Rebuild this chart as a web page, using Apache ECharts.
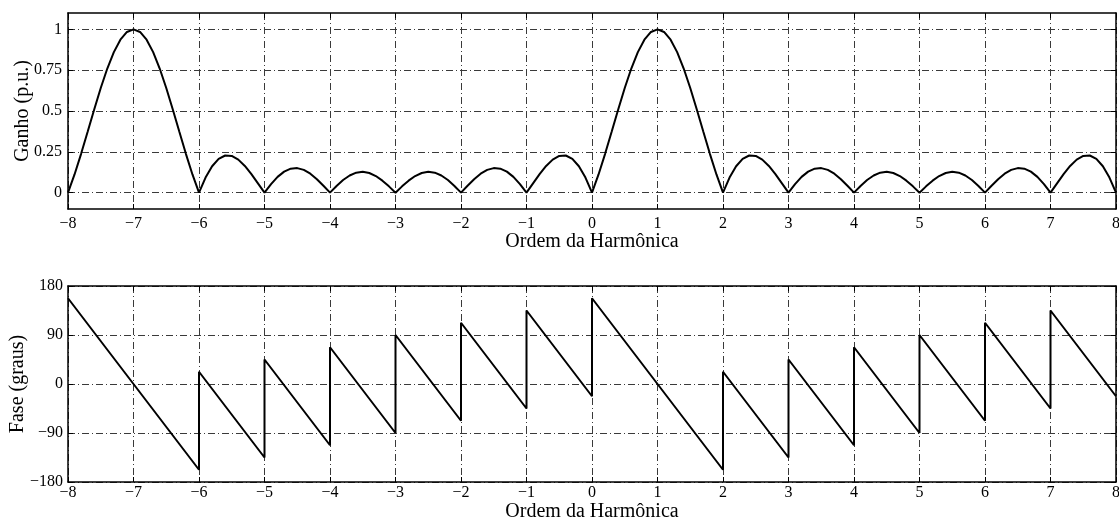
<!DOCTYPE html>
<html>
<head>
<meta charset="utf-8">
<script src="https://cdn.jsdelivr.net/npm/echarts@6/dist/echarts.min.js"></script>
<style>
  html, body { margin: 0; padding: 0; background: #fff; }
  #chart { width: 1119px; height: 520px; }
</style>
</head>
<body>
<div id="chart"></div>
<script>
// Harmonic order axis: sampled from -8 to 8 in steps of 0.1
const orderStart = -8;
const orderStep = 0.1;

// Filter gain (p.u.) at each sampled harmonic order
const gain = [
  0, 0.1116, 0.2378, 0.3726, 0.5093, 0.6407, 0.7599, 0.8604, 0.9365, 0.9839, 1,
  0.9839, 0.9365, 0.8604, 0.7599, 0.6407, 0.5093, 0.3726, 0.2378, 0.1116, 0,
  0.0923, 0.1618, 0.2070, 0.2275, 0.2250, 0.2023, 0.1633, 0.1131, 0.0569, 0,
  0.0526, 0.0966, 0.1288, 0.1469, 0.1503, 0.1394, 0.1159, 0.0825, 0.0425, 0,
  0.0412, 0.0773, 0.1051, 0.1223, 0.1274, 0.1204, 0.1018, 0.0737, 0.0387, 0,
  0.0387, 0.0737, 0.1018, 0.1204, 0.1274, 0.1223, 0.1051, 0.0773, 0.0412, 0,
  0.0425, 0.0825, 0.1159, 0.1394, 0.1503, 0.1469, 0.1288, 0.0966, 0.0526, 0,
  0.0569, 0.1131, 0.1633, 0.2023, 0.2250, 0.2275, 0.2070, 0.1618, 0.0923, 0,
  0.1116, 0.2378, 0.3726, 0.5093, 0.6407, 0.7599, 0.8604, 0.9365, 0.9839, 1,
  0.9839, 0.9365, 0.8604, 0.7599, 0.6407, 0.5093, 0.3726, 0.2378, 0.1116, 0,
  0.0923, 0.1618, 0.2070, 0.2275, 0.2250, 0.2023, 0.1633, 0.1131, 0.0569, 0,
  0.0526, 0.0966, 0.1288, 0.1469, 0.1503, 0.1394, 0.1159, 0.0825, 0.0425, 0,
  0.0412, 0.0773, 0.1051, 0.1223, 0.1274, 0.1204, 0.1018, 0.0737, 0.0387, 0,
  0.0387, 0.0737, 0.1018, 0.1204, 0.1274, 0.1223, 0.1051, 0.0773, 0.0412, 0,
  0.0425, 0.0825, 0.1159, 0.1394, 0.1503, 0.1469, 0.1288, 0.0966, 0.0526, 0,
  0.0569, 0.1131, 0.1633, 0.2023, 0.2250, 0.2275, 0.2070, 0.1618, 0.0923, 0
];

// Phase (degrees): breakpoints of the sawtooth, with the jumps at the gain zeros
const phaseOrder = [-8, -6, -6, -5, -5, -4, -4, -3, -3, -2, -2, -1, -1, 0, 0, 2, 2, 3, 3, 4, 4, 5, 5, 6, 6, 7, 7, 8];
const phaseDeg = [157.5, -157.5, 22.5, -135, 45, -112.5, 67.5, -90, 90, -67.5, 112.5, -45, 135, -22.5,
                  157.5, -157.5, 22.5, -135, 45, -112.5, 67.5, -90, 90, -67.5, 112.5, -45, 135, -22.5];

// Tick labels
const gainTicks = [0, 0.25, 0.5, 0.75, 1];
const xName = 'Ordem da Harmônica';

const FONT = '"Liberation Serif", "DejaVu Serif", serif';
const minus = v => String(v).replace('-', '\u2212');

const gainData = gain.map((g, i) => [+(orderStart + i * orderStep).toFixed(1), g]);
const phaseData = phaseOrder.map((h, i) => [h, phaseDeg[i]]);

const gridLine = { show: true, lineStyle: { color: '#3a3a3a', width: 1, type: [7, 3, 1, 3] } };
const tickIn = { show: true, inside: true, length: 5, lineStyle: { color: '#000', width: 1 } };
const frame = { show: true, onZero: false, lineStyle: { color: '#000', width: 1.5 } };

function xAxes(gridIndex) {
  return [
    {
      type: 'value', gridIndex, min: -8, max: 8, interval: 1,
      name: xName, nameLocation: 'middle', nameGap: gridIndex === 0 ? 23 : 20,
      nameMoveOverlap: false,
      nameTextStyle: { fontFamily: FONT, fontSize: 20, color: '#000' },
      axisLine: frame,
      axisTick: tickIn,
      axisLabel: { fontFamily: FONT, fontSize: 16, color: '#000', margin: gridIndex === 0 ? 7 : 3, formatter: minus },
      splitLine: gridLine
    },
    {
      type: 'value', gridIndex, position: 'top', min: -8, max: 8, interval: 1,
      axisLine: frame,
      axisTick: tickIn, axisLabel: { show: false }, splitLine: { show: false }
    }
  ];
}

const option = {
  animation: false,
  backgroundColor: '#fff',
  grid: [
    { left: 68, right: 3, top: 13, height: 196, outerBoundsMode: 'none', containLabel: false },
    { left: 68, right: 3, top: 286, height: 196, outerBoundsMode: 'none', containLabel: false }
  ],
  xAxis: [...xAxes(0), ...xAxes(1)],
  yAxis: [
    {
      type: 'value', gridIndex: 0, min: -0.1, max: 1.1,
      name: 'Ganho (p.u.)', nameLocation: 'middle', nameGap: 35, nameMoveOverlap: false,
      nameTextStyle: { fontFamily: FONT, fontSize: 20, color: '#000' },
      axisLine: frame,
      axisTick: Object.assign({ customValues: gainTicks }, tickIn),
      axisLabel: { fontFamily: FONT, fontSize: 16, color: '#000', margin: 6, customValues: gainTicks },
      splitLine: gridLine
    },
    {
      type: 'value', gridIndex: 0, position: 'right', min: -0.1, max: 1.1,
      axisLine: frame,
      axisTick: Object.assign({ customValues: gainTicks }, tickIn),
      axisLabel: { show: false }, splitLine: { show: false }
    },
    {
      type: 'value', gridIndex: 1, min: -180, max: 180, interval: 90,
      name: 'Fase (graus)', nameLocation: 'middle', nameGap: 40, nameMoveOverlap: false,
      nameTextStyle: { fontFamily: FONT, fontSize: 20, color: '#000' },
      axisLine: frame,
      axisTick: tickIn,
      axisLabel: { fontFamily: FONT, fontSize: 16, color: '#000', margin: 5, formatter: minus },
      splitLine: gridLine
    },
    {
      type: 'value', gridIndex: 1, position: 'right', min: -180, max: 180, interval: 90,
      axisLine: frame,
      axisTick: tickIn, axisLabel: { show: false }, splitLine: { show: false }
    }
  ],
  series: [
    {
      type: 'line', xAxisIndex: 0, yAxisIndex: 0, data: gainData,
      showSymbol: false, smooth: false, silent: true,
      lineStyle: { color: '#000', width: 2 }
    },
    {
      type: 'line', xAxisIndex: 2, yAxisIndex: 2, data: phaseData,
      showSymbol: false, silent: true,
      lineStyle: { color: '#000', width: 2 }
    }
  ]
};

echarts.init(document.getElementById('chart'), null, { renderer: 'canvas' }).setOption(option);
</script>
</body>
</html>
